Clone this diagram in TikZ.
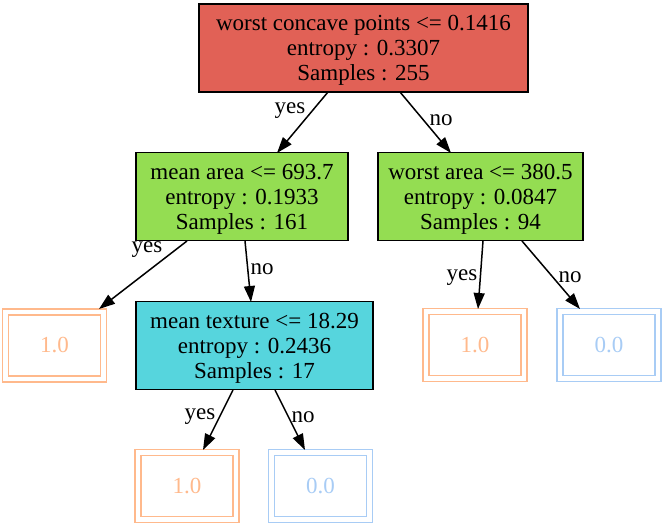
\documentclass[tikz,border=0pt]{standalone}
\usepackage{fontspec}
\setmainfont{Liberation Serif}
\usetikzlibrary{arrows.meta,calc}
\definecolor{rootred}{RGB}{225,97,86}
\definecolor{leafgreen}{RGB}{148,221,82}
\definecolor{tcyan}{RGB}{86,213,221}
\definecolor{leaforange}{RGB}{255,185,140}
\definecolor{leafblue}{RGB}{168,204,245}
\newcommand{\topstrut}{\rule{0pt}{20pt}}
\tikzset{
  split/.style={draw=black, line width=1.5pt, inner sep=0pt, minimum height=88pt,
    align=center, font=\fontsize{23}{25}\selectfont},
  leaf/.style={draw=#1, text=#1, double=white, double distance=4.4pt, line width=1.5pt,
    inner sep=0pt, minimum width=98pt, minimum height=67pt, font=\fontsize{23}{25}\selectfont},
  edge/.style={draw=black, line width=1.5pt, -{Triangle[length=16pt,width=11pt]}},
  elabel/.style={inner sep=0pt, font=\fontsize{23}{25}\selectfont}
}
\begin{document}
\begin{tikzpicture}[x=1pt,y=-1pt]
\useasboundingbox (0,0) rectangle (662,530);
\node[split, fill=rootred, minimum width=329pt] (R) at (363.5,48) {\topstrut worst concave points <= 0.1416\\entropy : 0.3307\\Samples : 255};
\node[split, fill=leafgreen, minimum width=212pt] (MA) at (242,196.5) {\topstrut mean area <= 693.7\\entropy : 0.1933\\Samples : 161};
\node[split, fill=leafgreen, minimum width=205pt] (WA) at (480.5,196.5) {\topstrut worst area <= 380.5\\entropy : 0.0847\\Samples : 94};
\node[split, fill=tcyan, minimum width=237pt] (MT) at (254.5,345.5) {\topstrut mean texture <= 18.29\\entropy : 0.2436\\Samples : 17};
\node[leaf=leaforange] (L1) at (54.5,345.5) {1.0};
\node[leaf=leaforange] (L2) at (475,345) {1.0};
\node[leaf=leafblue] (L3) at (609,345) {0.0};
\node[leaf=leaforange] (L4) at (187,486) {1.0};
\node[leaf=leafblue] (L5) at (320.5,486) {0.0};
\draw[edge] ($(R)+(-35.5,44)$) -- ($(MA)+(35,-43.5)$);
\draw[edge] ($(R)+(36.5,44)$) -- ($(WA)+(-29.5,-43.5)$);
\draw[edge] ($(MA)+(-55,44.5)$) -- ($(L1)+(44.5,-36.5)$);
\draw[edge] ($(MA)+(3,44.5)$) -- ($(MT)+(-3.5,-43.5)$);
\draw[edge] ($(WA)+(2.5,44.5)$) -- ($(L2)+(3,-36)$);
\draw[edge] ($(WA)+(41.5,44.5)$) -- ($(L3)+(-29,-36)$);
\draw[edge] ($(MT)+(-21.5,44.5)$) -- ($(L4)+(16,-36)$);
\draw[edge] ($(MT)+(20.5,44.5)$) -- ($(L5)+(-15.5,-36)$);
\node[elabel] (y1) at (290,111) {yes};
\node[elabel] (n1) at (441,120) {no};
\node[elabel] (y2) at (147,250) {yes};
\node[elabel] (n2) at (262,269) {no};
\node[elabel] (y3) at (462,278) {yes};
\node[elabel] (n3) at (570,277) {no};
\node[elabel] (y4) at (200,417) {yes};
\node[elabel] (n4) at (303,417) {no};
\end{tikzpicture}
\end{document}
